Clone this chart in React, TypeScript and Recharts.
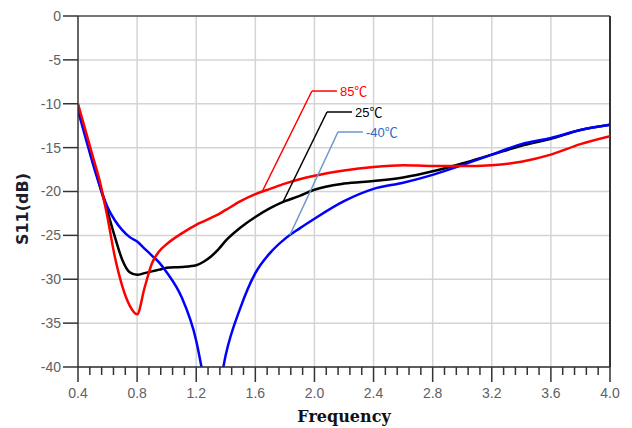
import React from 'react'
import { LineChart, Line, XAxis, YAxis, CartesianGrid, ReferenceLine } from 'recharts'

// frequency points (GHz) shared by all three traces
const freq = [
  0.4, 0.45, 0.5, 0.55, 0.6, 0.65, 0.7, 0.75, 0.8, 0.85, 0.9, 0.95, 1.0, 1.1, 1.2, 1.25, 1.3, 1.35,
  1.4, 1.5, 1.6, 1.7, 1.8, 1.9, 2.0, 2.2, 2.4, 2.6, 2.8, 3.0, 3.2, 3.4, 3.6, 3.8, 4.0,
]
const s11_85 = [
  -10, -13, -16, -19, -23, -27.5, -30.8, -33, -34, -31, -28.2, -26.8, -26, -24.8, -23.8, -23.4, -23, -22.6,
  -22.1, -21.1, -20.3, -19.7, -19.1, -18.6, -18.2, -17.6, -17.2, -17, -17.1, -17.1, -17, -16.6, -15.8, -14.6, -13.7,
]
const s11_25 = [
  -10.5, -13.5, -16.5, -19.5, -22.3, -25.2, -27.8, -29.2, -29.5, -29.3, -29.1, -28.9, -28.7, -28.6, -28.4, -28, -27.4, -26.6,
  -25.6, -24.1, -22.9, -21.9, -21.1, -20.5, -19.8, -19.1, -18.8, -18.4, -17.7, -16.8, -15.8, -14.8, -14, -13, -12.4,
]
const s11_m40 = [
  -10.8, -13.8, -16.8, -19.5, -21.8, -23.3, -24.4, -25.2, -25.7, -26.5, -27.3, -28.1, -29.2, -32, -37, -41.3, -46, -43,
  -38.6, -33.2, -29.3, -27, -25.4, -24.2, -23.1, -21.1, -19.7, -19, -18.1, -17, -15.8, -14.6, -13.9, -13, -12.4,
]

const xMajor = [0.4, 0.8, 1.2, 1.6, 2.0, 2.4, 2.8, 3.2, 3.6, 4.0]
const yTicks = [0, -5, -10, -15, -20, -25, -30, -35, -40]

// leader lines for the temperature labels: [start, corner, end] in (GHz, dB)
const labels = [
  { name: '85℃', pts: [[1.645, -20.06], [1.983, -8.55], [2.152, -8.55]], line: '#ff0000', text: '#ff0000' },
  { name: '25℃', pts: [[1.787, -21.2], [2.085, -10.94], [2.254, -10.94]], line: '#000000', text: '#000000' },
  { name: '-40℃', pts: [[1.834, -24.96], [2.159, -13.22], [2.328, -13.22]], line: '#6b97cf', text: '#2f67c8' },
]

const mk = (vals: number[]) => freq.map((f, i) => ({ f, v: vals[i] }))

// minor ticks: 4 between each pair of majors
const xTicks: number[] = []
xMajor.forEach((m, i) => {
  if (i === xMajor.length - 1) { xTicks.push(m); return }
  for (let k = 0; k < 5; k++) xTicks.push(+(m + (k * (xMajor[i + 1] - m)) / 5).toFixed(3))
})

const isMajor = (v: number) => xMajor.some((m) => Math.abs(m - v) < 1e-6)

const XTick = (props: any) => {
  const { x, y, payload } = props
  const major = isMajor(payload.value)
  return (
    <g>
      <line x1={x} x2={x} y1={y} y2={y + (major ? 15 : 8)} stroke="#333" strokeWidth={1.5} />
      {major && (
        <text x={x} y={y + 31} textAnchor="middle" fill="#616161" fontSize={14} fontFamily="Liberation Sans, Arial, sans-serif">
          {payload.value.toFixed(1)}
        </text>
      )}
    </g>
  )
}

export default function App() {
  return (
    <div style={{ position: 'absolute', left: 0, top: 0, background: '#fff' }}>
      <LineChart width={632} height={428} margin={{ top: 16, right: 22, left: 0, bottom: 0 }}>
        <CartesianGrid vertical={false} stroke="#d4d4d4" strokeWidth={1.5} />
        {xMajor.slice(1, -1).map((m) => (
          <ReferenceLine key={m} x={m} stroke="#d4d4d4" strokeWidth={1.5} />
        ))}
        <ReferenceLine y={0} stroke="#555" strokeWidth={1.5} />
        <ReferenceLine x={4.0} stroke="#333" strokeWidth={2} />
        <XAxis
          type="number"
          dataKey="f"
          domain={[0.4, 4.0]}
          ticks={xTicks}
          interval={0}
          tickSize={0}
          tickMargin={0}
          tickLine={false}
          tick={<XTick />}
          height={61}
          stroke="#333"
          strokeWidth={1.5}
          allowDataOverflow
          label={{
            content: () => (
              <text x={344} y={422} textAnchor="middle" fontSize={16} fontWeight="bold" fill="#111" fontFamily="DejaVu Serif, serif">
                Frequency
              </text>
            ),
          }}
        />
        <YAxis
          type="number"
          domain={[-40, 0]}
          ticks={yTicks}
          interval={0}
          width={78}
          tickSize={15}
          tickMargin={2}
          stroke="#333"
          strokeWidth={1.5}
          tick={{ fill: '#616161', fontSize: 14, fontFamily: 'Liberation Sans, Arial, sans-serif' }}
          allowDataOverflow
          label={{
            content: () => (
              <text x={22} y={209} transform="rotate(-90 22 209)" textAnchor="middle" dominantBaseline="central" fontSize={16} fontWeight="bold" fill="#1c1c2e" fontFamily="DejaVu Sans, sans-serif">
                S11(dB)
              </text>
            ),
          }}
        />
        <Line data={mk(s11_25)} dataKey="v" type="monotone" stroke="#000000" strokeWidth={2.5} dot={false} isAnimationActive={false} />
        <Line data={mk(s11_m40)} dataKey="v" type="monotone" stroke="#0000ff" strokeWidth={2.5} dot={false} isAnimationActive={false} />
        <Line data={mk(s11_85)} dataKey="v" type="monotone" stroke="#ff0000" strokeWidth={2.5} dot={false} isAnimationActive={false} />
        {labels.map((l) => (
          <React.Fragment key={l.name}>
            <ReferenceLine
              segment={[{ x: l.pts[0][0], y: l.pts[0][1] }, { x: l.pts[1][0], y: l.pts[1][1] }]}
              stroke={l.line}
              strokeWidth={1.5}
            />
            <ReferenceLine
              segment={[{ x: l.pts[1][0], y: l.pts[1][1] }, { x: l.pts[2][0], y: l.pts[2][1] }]}
              stroke={l.line}
              strokeWidth={1.5}
              label={{ value: l.name, position: 'right', offset: 3, fill: l.text, fontSize: 13, fontFamily: 'Liberation Sans, Noto Sans CJK SC, sans-serif' }}
            />
          </React.Fragment>
        ))}
      </LineChart>
    </div>
  )
}
